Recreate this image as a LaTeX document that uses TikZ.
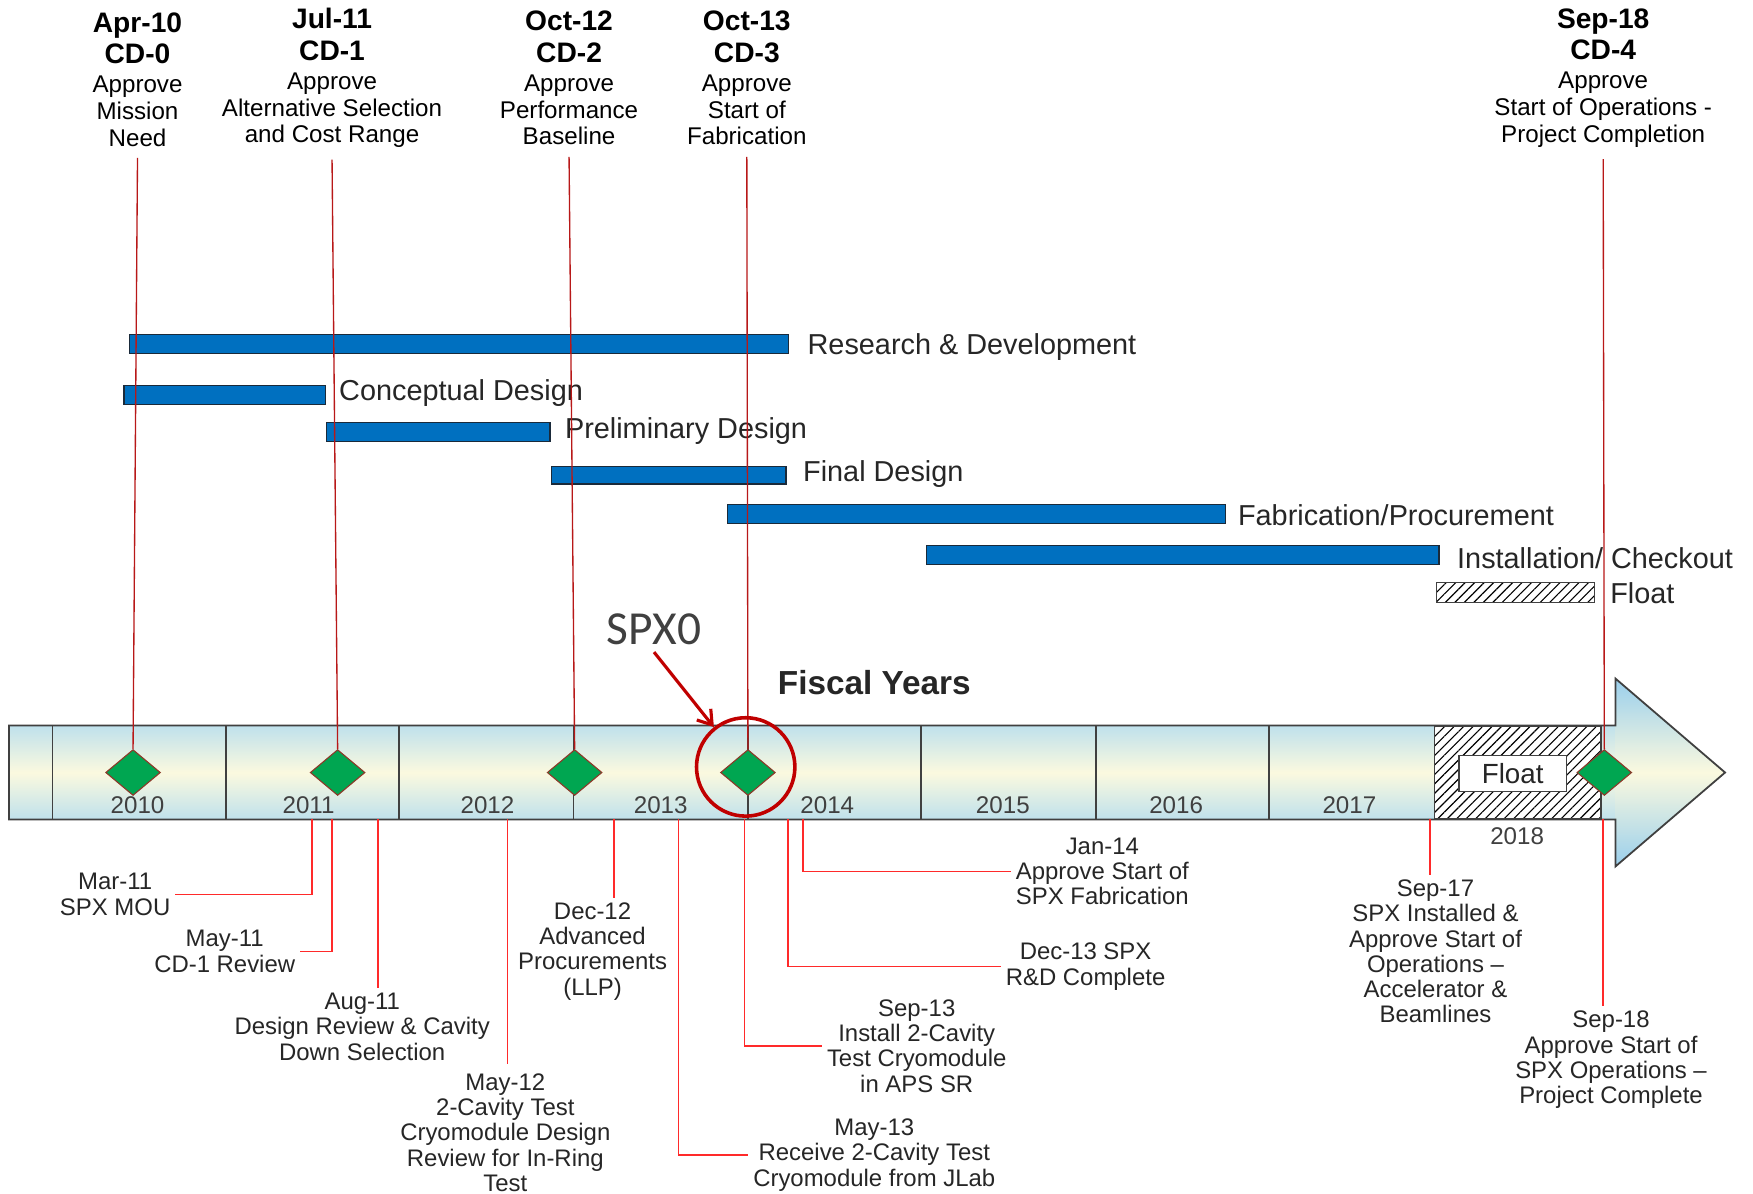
\documentclass[tikz,border=0pt]{standalone}
\usepackage{fontspec}
\setmainfont{Liberation Sans}
\newfontfamily\calib{Carlito}
\usetikzlibrary{shapes.geometric,arrows.meta,patterns.meta,calc}
\definecolor{gblue}{HTML}{0070C0}
\definecolor{gedge}{HTML}{1A2A3A}
\definecolor{tlblue}{HTML}{BFE1EC}
\definecolor{tlyel}{HTML}{FBF9DF}
\definecolor{arblue}{HTML}{9ACFEC}
\definecolor{tledge}{HTML}{404040}
\definecolor{msgreen}{HTML}{00A651}
\definecolor{msedge}{HTML}{8B3A2A}
\definecolor{tred}{HTML}{B81818}
\definecolor{bred}{HTML}{FF2A2A}
\definecolor{spxred}{HTML}{C00000}
\definecolor{txt}{HTML}{262626}
\definecolor{spxtxt}{HTML}{404040}
\begin{document}
\begin{tikzpicture}[x=0.5pt,y=-0.5pt,
  gbar/.style={fill=gblue,draw=gedge,line width=0.6pt},
  glab/.style={anchor=west,inner sep=0pt,font=\fontsize{12.9}{14}\selectfont,text=txt},
  hatchbox/.style={draw=tledge,line width=0.6pt,pattern={Lines[angle=45,distance=3pt,line width=0.5pt]},pattern color=black},
  tlline/.style={draw=tledge,line width=0.8pt},
  yearlab/.style={font=\fontsize{10.8}{12}\selectfont,text=spxtxt,inner sep=0pt},
  ms/.style={shape=diamond,minimum width=24.5pt,minimum height=20.5pt,inner sep=0pt,fill=msgreen,draw=msedge,line width=0.5pt},
  toplab/.style={align=center,font=\fontsize{10.8}{12}\selectfont,text=black,inner sep=1pt},
  botlab/.style={align=center,font=\fontsize{10.7}{11.3}\selectfont,text=txt,inner sep=2pt},
  tconn/.style={draw=tred,line width=0.6pt},
  bconn/.style={draw=bred,line width=0.75pt}
]
\useasboundingbox (0,0) rectangle (1568,1068);
\fill[white] (0,0) rectangle (1568,1068);
\newcommand{\bd}[1]{{\fontsize{12.6}{14}\selectfont\bfseries #1}}

% ---------------- Gantt bars
\draw[gbar] (116,299) rectangle (705,316);
\node[glab] (lrd) at (722,310) {Research \& Development};
\draw[gbar] (111,345) rectangle (291,362);
\node[glab] (lcd) at (303,352) {Conceptual Design};
\draw[gbar] (292,378) rectangle (492,395);
\node[glab] (lpd) at (505,386) {Preliminary Design};
\draw[gbar] (493,417) rectangle (703,433);
\node[glab] (lfd) at (718,424) {Final Design};
\draw[gbar] (651,451) rectangle (1096,468);
\node[glab] (lfp) at (1107,461) {Fabrication/Procurement};
\draw[gbar] (829,488) rectangle (1287,505);
\node[glab] (lic) at (1303,499) {Installation/ Checkout};
\fill[white] (1285,521) rectangle (1426,539);
\draw[hatchbox] (1285,521) rectangle (1426,539);
\node[glab] (lfl) at (1440,531) {Float};

% ---------------- Timeline
\shade[top color=tlblue,bottom color=tlblue,middle color=tlyel] (8,649) rectangle (1445,733);
\shade[top color=arblue,bottom color=arblue,middle color=tlyel] (1445,607) -- (1543,691) -- (1445,775) -- cycle;
\draw[tlline] (8,649) -- (1445,649) -- (1445,607) -- (1543,691) -- (1445,775) -- (1445,733) -- (8,733) -- cycle;
\foreach \x in {47,202,357,513,669,824,980,1135}
  \draw[tlline] (\x,649) -- (\x,733);
\fill[white] (1283,650) rectangle (1432,732);
\draw[hatchbox] (1283,650) rectangle (1432,732);
\node[draw=tledge,fill=white,line width=0.6pt,minimum width=48pt,minimum height=16pt,inner sep=0pt,
      font=\fontsize{12.4}{14}\selectfont,text=txt] (fbox) at (1353,692) {Float};

\node[yearlab] (y10) at (123,720) {2010};
\node[yearlab] (y11) at (276,720) {2011};
\node[yearlab] (y12) at (436,720) {2012};
\node[yearlab] (y13) at (591,720) {2013};
\node[yearlab] (y14) at (740,720) {2014};
\node[yearlab] (y15) at (897,720) {2015};
\node[yearlab] (y16) at (1052,720) {2016};
\node[yearlab] (y17) at (1207,720) {2017};
\node[yearlab] (y18) at (1357,748) {2018};

\node[font=\fontsize{14.9}{16}\selectfont\bfseries,text=txt] (fy) at (782,611) {Fiscal Years};

% ---------------- Milestone diamonds
\node[ms] (d0) at (119,691) {};
\node[ms] (d1) at (302,691) {};
\node[ms] (d2) at (514,691) {};
\node[ms] (d3) at (669,691) {};
\node[ms] (d4) at (1435,691) {};

% ---------------- Top labels
\node[toplab] (cd0) at (123,71) {\bd{Apr-10}\\[2pt]\bd{CD-0}\\[1pt]Approve\\Mission\\Need};
\node[toplab] (cd1) at (297,70) {\bd{Jul-11}\\[2pt]\bd{CD-1}\\[1pt]Approve\\Alternative Selection\\and Cost Range};
\node[toplab] (cd2) at (509,70) {\bd{Oct-12}\\[2pt]\bd{CD-2}\\[1pt]Approve\\Performance\\Baseline};
\node[toplab] (cd3) at (668,70) {\bd{Oct-13}\\[2pt]\bd{CD-3}\\[1pt]Approve\\Start of\\Fabrication};
\node[toplab] (cd4) at (1434,70) {\bd{Sep-18}\\[2pt]\bd{CD-4}\\[1pt]Approve\\Start of Operations -\\Project Completion};

\draw[tconn] ([yshift=-4pt]cd0.south) -- (d0.north);
\draw[tconn] ([yshift=-4pt]cd1.south) -- (d1.north);
\draw[tconn] ([yshift=-4pt]cd2.south) -- (d2.north);
\draw[tconn] ([yshift=-4pt]cd3.south) -- (d3.north);
\draw[tconn] ([yshift=-4pt]cd4.south) -- (d4.north);

% ---------------- Bottom labels
\node[botlab] (mar11) at (103,800) {Mar-11\\SPX MOU};
\node[botlab] (may11) at (201,851) {May-11\\CD-1 Review};
\node[botlab] (aug11) at (324,918.5) {Aug-11\\Design Review \& Cavity\\Down Selection};
\node[botlab,inner sep=0pt] (may12) at (452,1013) {May-12\\2-Cavity Test\\Cryomodule Design\\Review for In-Ring\\Test};
\node[botlab] (dec12) at (530,851) {Dec-12\\Advanced\\Procurements\\(LLP)};
\node[botlab] (may13) at (782,1033) {May-13\\Receive 2-Cavity Test\\Cryomodule from JLab};
\node[botlab] (sep13) at (820,935.5) {Sep-13\\Install 2-Cavity\\Test Cryomodule\\in APS SR};
\node[botlab] (dec13) at (971,864.5) {Dec-13 SPX\\R\&D Complete};
\node[botlab] (jan14) at (986,779.5) {Jan-14\\Approve Start of\\SPX Fabrication};
\node[botlab] (sep17) at (1284,851) {Sep-17\\SPX Installed \&\\Approve Start of\\Operations --\\Accelerator \&\\Beamlines};
\node[botlab] (sep18) at (1441,948) {Sep-18\\Approve Start of\\SPX Operations --\\Project Complete};

\coordinate (b1) at (279,733);
\coordinate (b2) at (297,733);
\coordinate (b3) at (338,733);
\coordinate (b4) at (454,733);
\coordinate (b5) at (549,733);
\coordinate (b6) at (607,733);
\coordinate (b7) at (666,733);
\coordinate (b8) at (705,733);
\coordinate (b9) at (718,733);
\coordinate (b10) at (1279,733);
\coordinate (b11) at (1434,733);

\draw[bconn] (b1) |- (mar11.east);
\draw[bconn] (b2) |- (may11.east);
\draw[bconn] (b3) -- (b3 |- aug11.north);
\draw[bconn] (b4) -- ([yshift=4pt]b4 |- may12.north);
\draw[bconn] (b5) -- (b5 |- dec12.north);
\draw[bconn] (b6) |- (may13.west);
\draw[bconn] (b7) |- (sep13.west);
\draw[bconn] (b8) |- (dec13.west);
\draw[bconn] (b9) |- (jan14.west);
\draw[bconn] (b10) -- (b10 |- sep17.north);
\draw[bconn] (b11) -- (b11 |- sep18.north);

% ---------------- SPX0 highlight
\node[font=\calib\fontsize{21.2}{24}\selectfont,text=spxtxt,inner sep=1pt] (spx) at (585,563) {SPX0};
\node[circle,draw=spxred,line width=1.6pt,minimum size=44pt,inner sep=0pt] (ring) at (667,686) {};
\draw[draw=spxred,line width=1.4pt,-{Straight Barb[length=6pt,width=8pt]}] ([yshift=-2pt]spx.south) -- (ring);
\end{tikzpicture}
\end{document}
